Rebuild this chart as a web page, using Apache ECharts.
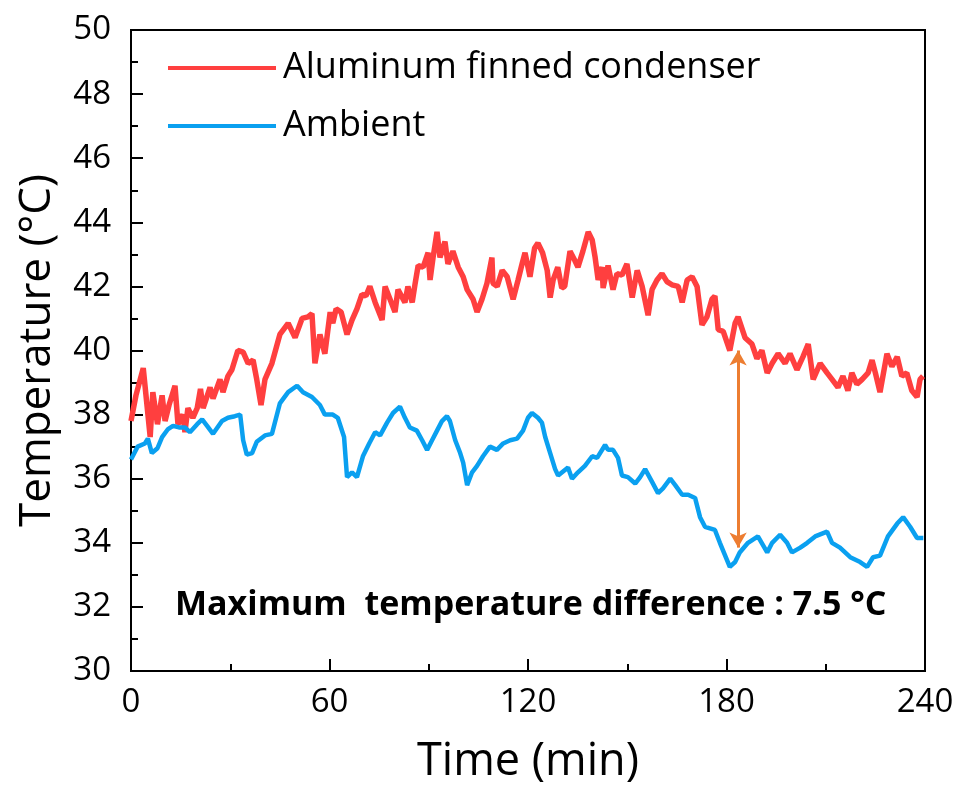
<!DOCTYPE html>
<html>
<head>
<meta charset="utf-8">
<script src="https://cdn.jsdelivr.net/npm/echarts@6/dist/echarts.min.js"></script>
<style>
html,body{margin:0;padding:0;background:#fff;}
#chart{width:963px;height:789px;}
</style>
</head>
<body>
<div id="chart"></div>
<script>
var redTime = [0,1.5,3.7,5.8,6.6,8,9.4,10.3,11.5,13.3,14.2,15.7,16.3,17.2,18.7,20,21,21.8,23.9,24.8,26.9,27.8,29.3,30.5,32.3,33.9,35.4,36.9,38,39.3,40.5,42.6,45,47.5,49.6,51.7,53.5,54.7,55.6,57.1,58.6,60.2,61,62,63.5,65.3,66.8,68.3,69.8,71,72.2,73.8,75.9,76.8,78.3,79.8,80.7,82.8,83.7,85,85.9,86.8,88.3,89.8,90.4,91.3,92.5,93.4,94.9,95.8,97.3,98.9,100.4,101.6,103.4,104.6,106.1,107.6,109.1,109.4,110.7,112.2,113.7,115.5,117,118.2,119.1,120.6,122,123,124.4,125.8,126.7,127.6,129,130.2,131.1,132.7,134.2,135.1,136.6,138.2,139.4,140.3,141.2,142.4,142.7,144.2,145.7,146.9,148.4,149.9,151.5,153,154.5,156.3,157.5,159,160.5,162,163.5,165.4,166.6,168.1,169.6,171.1,172.6,174.1,175.6,176.5,177.5,179,181,182.6,183.5,185.6,187.7,189.2,190.7,192.3,193.8,195.6,197.7,199.2,201.3,203.1,204.7,206.2,208.3,210.4,211.9,213.7,215.2,216.7,217.9,219.4,221,222.8,224,225,226.4,228.5,230,231.6,233,234.5,236,237.6,238.5,239.4];
var redTemp = [37.8,38.6,39.45,37.3,38.7,37.7,38.6,37.8,38.3,38.9,37.7,38.0,37.45,38.2,37.9,38.2,38.8,38.2,38.85,38.5,39.1,38.7,39.2,39.4,40.0,39.95,39.6,39.7,39.1,38.3,39.1,39.6,40.5,40.85,40.4,41.0,41.05,41.15,39.6,40.5,39.9,41.2,40.85,41.3,41.2,40.5,40.95,41.3,41.75,41.7,42.0,41.5,40.95,42.0,41.6,41.2,41.9,41.5,42.0,41.5,42.1,42.65,42.6,43.05,42.2,42.9,43.7,42.9,43.4,42.7,43.1,42.6,42.3,41.9,41.6,41.2,41.6,42.1,42.9,42.1,42.0,42.5,42.3,41.6,42.2,42.7,43.05,42.3,43.2,43.35,43.05,42.5,41.65,42.2,42.6,41.95,42.0,43.1,42.8,42.6,43.1,43.7,43.45,42.9,42.2,42.6,41.95,42.65,41.9,42.4,42.35,42.7,41.65,42.5,42.0,41.1,41.9,42.2,42.4,42.15,42.05,42.0,41.5,42.2,42.3,42.0,40.8,41.05,41.6,41.7,40.65,40.6,40.0,40.85,41.05,40.4,40.2,39.75,40.0,39.3,39.6,39.9,39.6,39.9,39.4,39.8,40.2,39.1,39.6,39.3,39.1,38.85,39.2,38.75,39.3,38.95,39.1,39.3,39.7,39.3,38.7,39.9,39.5,39.8,39.2,39.3,38.75,38.55,39.1,39.2];
var blueTime = [0,2,4.2,5.1,6.3,8,9.4,11.2,12.7,14.5,16.3,17.8,20,21.5,23,24.8,27.5,29.3,31.4,33,33.9,35,36.6,38,40.5,42.6,45,47.5,50.2,52,54.7,57.1,58.6,61,62.5,64.4,65.3,66.8,68.3,70.1,72,73.8,75.3,77.4,79.2,81.3,82.8,84.3,86.4,88,89.5,91,92.5,94,95.5,96.4,98,99.5,100.4,101.6,103.1,104.6,106.4,108.5,110.6,112.5,114.6,116.7,118.5,120,121.2,123,124.2,125.2,126.7,128.2,129.1,132.1,133.3,135.1,137.2,139.4,140.9,143.3,144.2,145.7,147.2,148.4,150.2,152.4,153.9,155.4,157.5,159.3,160.8,163,164.5,166.6,168.4,170.5,172,173.5,176.5,178,181,182.6,184,186.5,189.5,192.3,193.8,196.2,198.3,199.8,202.3,204.4,206.8,210.4,211.9,214.3,217.4,220.4,222.5,224.3,226.4,228.8,231.6,233.4,235.5,237.6,239.5];
var blueTemp = [36.6,37.0,37.1,37.25,36.8,36.95,37.3,37.55,37.65,37.6,37.6,37.45,37.7,37.85,37.65,37.4,37.8,37.9,37.95,38.0,37.2,36.75,36.8,37.15,37.35,37.4,38.35,38.7,38.9,38.7,38.55,38.3,38.0,38.0,37.9,37.3,36.05,36.2,36.05,36.7,37.1,37.45,37.35,37.75,38.05,38.25,37.9,37.6,37.5,37.2,36.9,37.2,37.5,37.8,37.95,37.8,37.2,36.8,36.5,35.8,36.2,36.4,36.7,37.0,36.9,37.1,37.2,37.25,37.5,37.9,38.05,37.9,37.75,37.3,36.8,36.3,36.1,36.35,36.0,36.2,36.4,36.7,36.65,37.05,36.9,36.9,36.65,36.1,36.05,35.85,36.05,36.3,35.9,35.55,35.7,36.0,35.8,35.5,35.5,35.4,34.8,34.5,34.4,34.0,33.25,33.4,33.7,34.0,34.2,33.7,34.0,34.25,34.0,33.7,33.85,34.0,34.2,34.35,34.0,33.85,33.55,33.4,33.25,33.55,33.6,34.2,34.6,34.8,34.5,34.15,34.15];
var seriesNames = ['Aluminum finned condenser','Ambient'];
var arrowTime = 183.5, arrowTop = 40.0, arrowBottom = 33.85;
var noteText = 'Maximum  temperature difference : 7.5 \u00B0C';

function pairs(t, v){ return t.map(function(x,i){ return [x, v[i]]; }); }

var FONT = '"Open Sans"';
var chart = echarts.init(document.getElementById('chart'));
chart.setOption({
  animation: false,
  backgroundColor: '#fff',
  grid: {left: 131, top: 30, right: 38, bottom: 118, outerBoundsMode: 'none', containLabel: false, show: true, borderColor: '#000', borderWidth: 2, backgroundColor: 'transparent'},
  legend: {
    orient: 'vertical', left: 163, top: 45, itemGap: 22,
    itemWidth: 108, itemHeight: 4,
    textStyle: {fontFamily: FONT, fontSize: 36, lineHeight: 36, color: '#000', padding: [0,0,0,2]},
    data: [{name: seriesNames[0], icon: 'rect'}, {name: seriesNames[1], icon: 'rect'}]
  },
  xAxis: {
    type: 'value', min: 0, max: 240, interval: 60,
    name: 'Time (min)', nameLocation: 'middle', nameGap: 69,
    nameTextStyle: {fontFamily: FONT, fontSize: 45, color: '#000'},
    axisLine: {show: true, lineStyle: {color: '#000', width: 2}},
    axisTick: {show: true, inside: true, length: 12, lineStyle: {color: '#000', width: 2}},
    minorTick: {show: true, splitNumber: 2, length: 7, lineStyle: {color: '#000', width: 2}},
    axisLabel: {fontFamily: FONT, fontSize: 33, color: '#000', margin: 15},
    splitLine: {show: false}
  },
  yAxis: {
    type: 'value', min: 30, max: 50, interval: 2,
    name: 'Temperature (\u00B0C)', nameLocation: 'middle', nameGap: 72, nameRotate: 90,
    nameTextStyle: {fontFamily: FONT, fontSize: 44, color: '#000'},
    axisLine: {show: true, lineStyle: {color: '#000', width: 2}},
    axisTick: {show: true, inside: true, length: 12, lineStyle: {color: '#000', width: 2}},
    minorTick: {show: true, splitNumber: 2, length: 7, lineStyle: {color: '#000', width: 2}},
    axisLabel: {fontFamily: FONT, fontSize: 33, color: '#000', margin: 20},
    splitLine: {show: false}
  },
  series: [
    {
      name: seriesNames[0], type: 'line', data: pairs(redTime, redTemp),
      showSymbol: false, symbol: 'none', color: '#FF3F3F',
      lineStyle: {color: '#FF3F3F', width: 5.5}, z: 3,
      markLine: {
        silent: true, symbol: ['arrow','arrow'], symbolSize: [13, 15],
        label: {show: false},
        lineStyle: {color: '#ED7D31', width: 3, type: 'solid'},
        data: [[{coord: [arrowTime, arrowTop]}, {coord: [arrowTime, arrowBottom]}]]
      }
    },
    {
      name: seriesNames[1], type: 'line', data: pairs(blueTime, blueTemp),
      showSymbol: false, symbol: 'none', color: '#0AA0F0',
      lineStyle: {color: '#0AA0F0', width: 4.5}, z: 3
    }
  ],
  graphic: [{
    type: 'text', x: 175, y: 605,
    style: {text: noteText, fontFamily: FONT, fontSize: 34, fontWeight: 'bold', fill: '#000', verticalAlign: 'middle', align: 'left'}
  }]
});
</script>
</body>
</html>
